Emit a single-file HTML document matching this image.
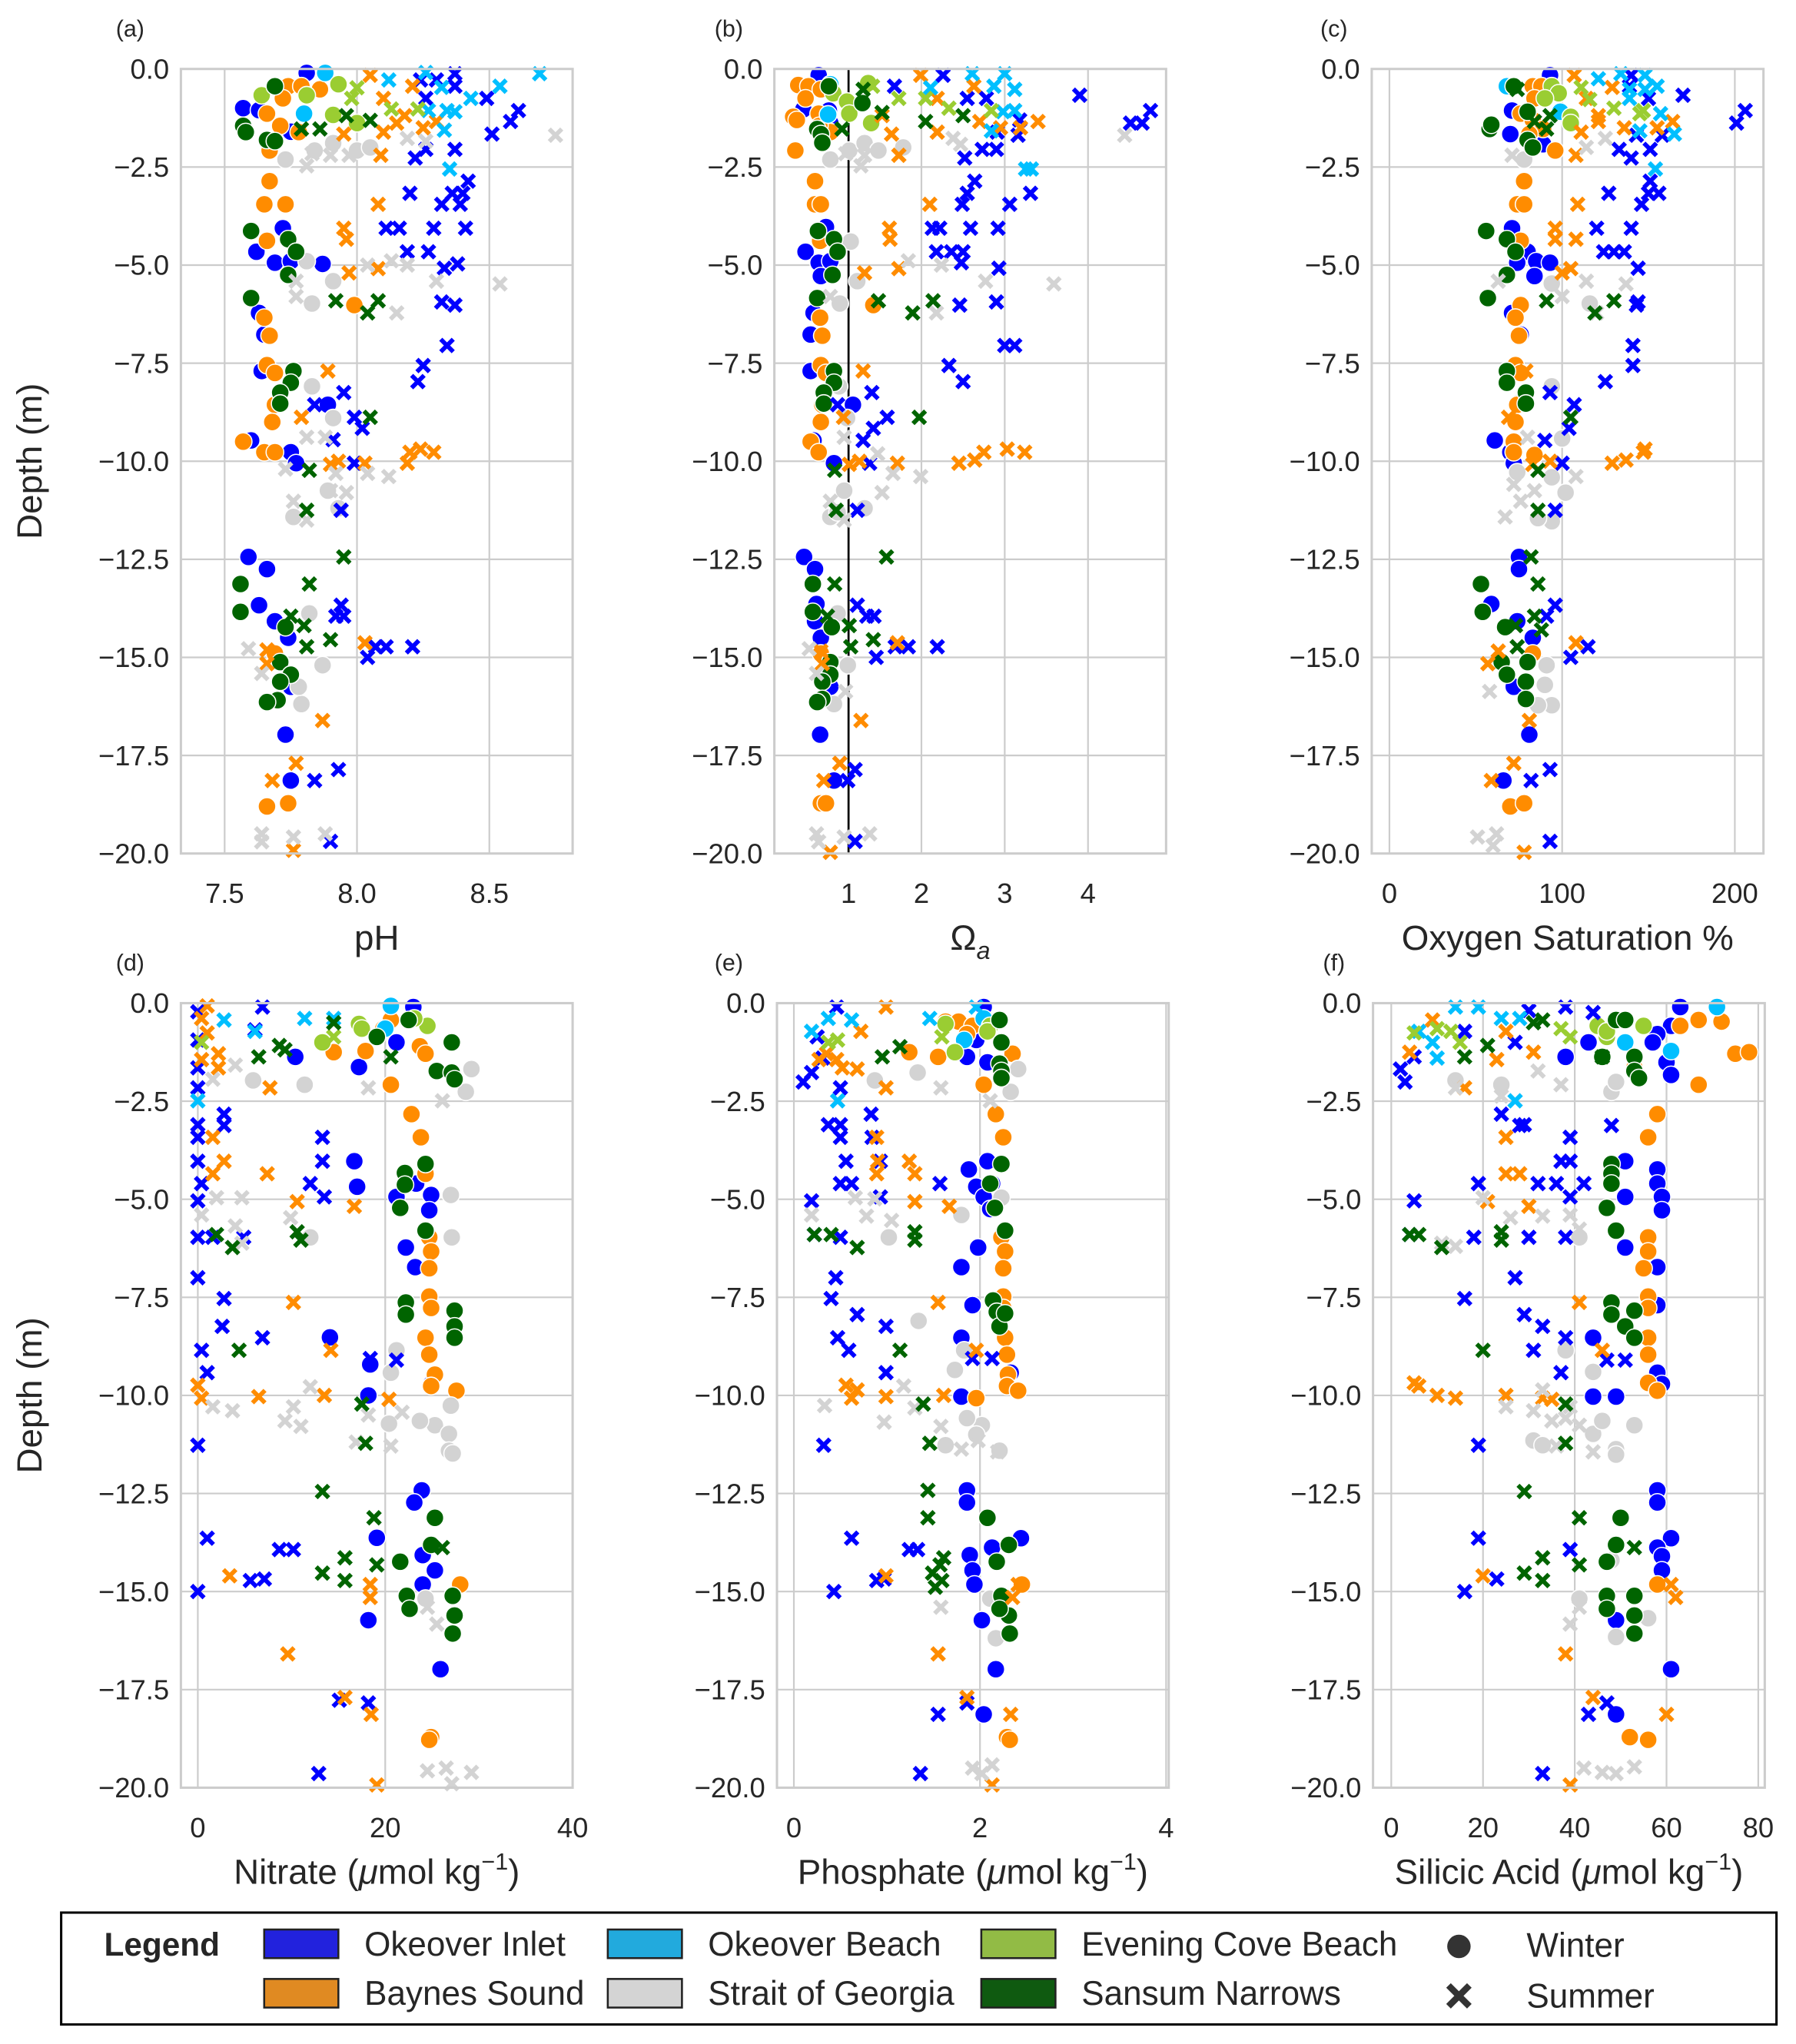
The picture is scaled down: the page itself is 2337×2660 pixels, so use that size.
<!DOCTYPE html>
<html><head><meta charset="utf-8"><style>
html,body{margin:0;padding:0;background:#fff}
svg{display:block}
text{font-family:"Liberation Sans",Arial,sans-serif;fill:#262626}
</style></head><body>
<svg id="fig" xmlns="http://www.w3.org/2000/svg" width="2337" height="2660" viewBox="0 0 1380 1571" preserveAspectRatio="none"></svg>
<script>
// site codes: B Okeover Inlet, O Baynes Sound, C Okeover Beach, S Strait of Georgia, G Evening Cove Beach, N Sansum Narrows
const siteCodes = ["B","O","C","S","G","N"];
const siteColors = ["#0000ff","#ff8c00","#00bfff","#d3d3d3","#9acd32","#006400"];
const yTicks = [0,-2.5,-5,-7.5,-10,-12.5,-15,-17.5,-20];
const yTickLabels = ["0.0","\u22122.5","\u22125.0","\u22127.5","\u221210.0","\u221212.5","\u221215.0","\u221217.5","\u221220.0"];
const phTicks = [7.5,8.0,8.5];
const phTickLabels = ["7.5","8.0","8.5"];
const omTicks = [1,2,3,4];
const omTickLabels = ["1","2","3","4"];
const oxTicks = [0,100,200];
const oxTickLabels = ["0","100","200"];
const niTicks = [0,20,40];
const niTickLabels = ["0","20","40"];
const poTicks = [0,2,4];
const poTickLabels = ["0","2","4"];
const siTicks = [0,20,40,60,80];
const siTickLabels = ["0","20","40","60","80"];

// [site, season(w/s), value, depth]
const phPoints = [
["B","w",7.81,-0.1],["B","w",7.57,-1.0],["B","w",7.63,-1.05],["B","w",7.75,-1.6],["B","w",7.72,-4.06],["B","w",7.62,-4.66],["B","w",7.69,-4.94],["B","w",7.75,-4.9],["B","w",7.87,-4.97],["B","w",7.63,-6.22],["B","w",7.65,-6.77],["B","w",7.64,-7.7],["B","w",7.89,-8.56],["B","w",7.60,-9.47],["B","w",7.75,-9.77],["B","w",7.77,-10.05],["B","w",7.59,-12.44],["B","w",7.66,-12.75],["B","w",7.63,-13.67],["B","w",7.69,-14.08],["B","w",7.74,-14.5],["B","w",7.75,-15.75],["B","w",7.73,-16.97],["B","w",7.75,-18.14],
["O","w",7.74,-0.44],["O","w",7.79,-0.44],["O","w",7.86,-0.52],["O","w",7.72,-0.75],["O","w",7.66,-1.14],["O","w",7.71,-1.45],["O","w",7.78,-1.61],["O","w",7.67,-2.08],["O","w",7.67,-2.86],["O","w",7.65,-3.45],["O","w",7.73,-3.45],["O","w",7.66,-4.38],["O","w",7.99,-6.02],["O","w",7.65,-6.34],["O","w",7.67,-6.8],["O","w",7.66,-7.55],["O","w",7.69,-7.75],["O","w",7.69,-8.56],["O","w",7.68,-9.0],["O","w",7.57,-9.5],["O","w",7.65,-9.77],["O","w",7.69,-9.77],["O","w",7.66,-18.8],["O","w",7.74,-18.72],["O","w",7.69,-14.9],
["C","w",7.88,-0.1],["C","w",7.80,-1.14],
["S","w",7.73,-2.31],["S","w",7.84,-2.08],["S","w",7.91,-1.89],["S","w",8.0,-2.08],["S","w",8.05,-2.0],["S","w",7.81,-4.9],["S","w",7.91,-5.41],["S","w",7.83,-5.98],["S","w",7.83,-8.09],["S","w",7.91,-8.9],["S","w",7.89,-10.75],["S","w",7.93,-11.2],["S","w",7.76,-11.42],["S","w",7.82,-13.88],["S","w",7.87,-15.2],["S","w",7.79,-16.19],["S","w",7.78,-15.75],
["G","w",7.64,-0.67],["G","w",7.93,-0.39],["G","w",8.0,-1.38],["G","w",7.91,-1.17],["G","w",7.81,-0.67],
["N","w",7.60,-4.13],["N","w",7.74,-4.34],["N","w",7.77,-4.66],["N","w",7.74,-5.25],["N","w",7.60,-5.84],["N","w",7.76,-7.7],["N","w",7.75,-8.0],["N","w",7.71,-8.25],["N","w",7.71,-8.53],["N","w",7.57,-1.45],["N","w",7.58,-1.61],["N","w",7.66,-1.81],["N","w",7.69,-1.84],["N","w",7.69,-0.44],["N","w",7.56,-13.13],["N","w",7.56,-13.84],["N","w",7.73,-14.23],["N","w",7.71,-15.12],["N","w",7.75,-15.44],["N","w",7.71,-15.62],["N","w",7.70,-16.09],["N","w",7.66,-16.14],
["B","s",8.24,-0.28],["B","s",8.30,-0.28],["B","s",8.37,-0.44],["B","s",8.37,-0.12],["B","s",8.49,-0.75],["B","s",8.26,-0.75],["B","s",8.61,-1.06],["B","s",8.58,-1.34],["B","s",8.51,-1.66],["B","s",8.37,-2.05],["B","s",8.26,-2.05],["B","s",8.22,-2.27],["B","s",8.42,-2.86],["B","s",8.20,-3.17],["B","s",8.36,-3.17],["B","s",8.40,-3.17],["B","s",8.32,-3.45],["B","s",8.39,-3.45],["B","s",8.11,-4.06],["B","s",8.16,-4.06],["B","s",8.29,-4.06],["B","s",8.41,-4.06],["B","s",8.19,-4.66],["B","s",8.27,-4.66],["B","s",8.33,-5.08],["B","s",8.38,-4.97],["B","s",8.32,-5.94],["B","s",8.37,-6.02],["B","s",8.34,-7.05],["B","s",8.25,-7.56],["B","s",8.23,-7.97],["B","s",7.95,-8.25],["B","s",7.84,-8.56],["B","s",7.99,-8.88],["B","s",8.02,-9.16],["B","s",7.91,-9.45],["B","s",7.99,-10.05],["B","s",7.94,-11.25],["B","s",7.94,-13.67],["B","s",7.92,-13.95],["B","s",7.95,-13.95],["B","s",8.07,-14.73],["B","s",8.11,-14.73],["B","s",8.21,-14.73],["B","s",8.04,-15.0],["B","s",7.93,-17.86],["B","s",7.84,-18.14],["B","s",7.90,-19.69],
["O","s",8.05,-0.16],["O","s",8.10,-0.75],["O","s",8.21,-0.44],["O","s",8.18,-1.19],["O","s",8.15,-1.38],["O","s",8.25,-1.5],["O","s",8.30,-1.34],["O","s",8.10,-1.61],["O","s",7.95,-1.66],["O","s",8.09,-2.2],["O","s",8.08,-3.45],["O","s",7.95,-4.06],["O","s",7.96,-4.34],["O","s",7.97,-5.2],["O","s",8.08,-5.09],["O","s",7.89,-7.7],["O","s",7.79,-8.88],["O","s",7.93,-10.0],["O","s",7.90,-10.08],["O","s",8.03,-10.05],["O","s",8.20,-9.77],["O","s",8.24,-9.69],["O","s",8.29,-9.77],["O","s",8.19,-10.05],["O","s",8.03,-14.63],["O","s",7.66,-14.81],["O","s",7.66,-15.16],["O","s",7.87,-16.61],["O","s",7.77,-17.7],["O","s",7.68,-18.14],["O","s",7.76,-19.92],
["C","s",8.12,-0.28],["C","s",8.26,-0.09],["C","s",8.32,-0.47],["C","s",8.43,-0.75],["C","s",8.54,-0.44],["C","s",8.69,-0.12],["C","s",8.27,-1.06],["C","s",8.34,-1.06],["C","s",8.37,-1.09],["C","s",8.33,-1.56],["C","s",8.35,-2.55],
["S","s",8.19,-1.77],["S","s",8.26,-1.84],["S","s",8.75,-1.69],["S","s",7.81,-2.47],["S","s",7.83,-2.16],["S","s",7.90,-2.2],["S","s",7.97,-2.2],["S","s",8.04,-5.0],["S","s",8.13,-4.89],["S","s",8.19,-5.0],["S","s",8.30,-5.41],["S","s",8.54,-5.48],["S","s",7.77,-5.41],["S","s",7.77,-5.8],["S","s",8.15,-6.22],["S","s",7.81,-9.39],["S","s",7.88,-9.39],["S","s",8.12,-10.39],["S","s",8.04,-10.31],["S","s",7.73,-10.2],["S","s",7.92,-10.31],["S","s",7.90,-10.75],["S","s",7.96,-10.8],["S","s",7.76,-11.02],["S","s",7.81,-11.5],["S","s",7.59,-14.78],["S","s",7.64,-15.41],["S","s",7.64,-19.5],["S","s",7.64,-19.7],["S","s",7.76,-19.58],["S","s",7.88,-19.5],
["G","s",8.0,-0.48],["G","s",7.98,-0.75],["G","s",8.13,-1.02],["G","s",8.23,-1.02],
["N","s",7.96,-1.19],["N","s",8.05,-1.31],["N","s",7.86,-1.53],["N","s",7.79,-1.53],["N","s",7.92,-5.91],["N","s",8.08,-5.91],["N","s",8.04,-6.22],["N","s",8.05,-8.88],["N","s",7.82,-10.23],["N","s",7.81,-11.25],["N","s",7.95,-12.44],["N","s",7.82,-13.13],["N","s",7.75,-13.95],["N","s",7.80,-14.19],["N","s",7.81,-14.73],["N","s",7.90,-14.55]
];

const omegaPoints = [
["B","w",0.59,-0.16],["B","w",0.38,-1.03],["B","w",0.73,-1.06],["B","w",0.41,-4.66],["B","w",0.69,-4.03],["B","w",0.59,-4.94],["B","w",0.75,-4.9],["B","w",0.62,-5.28],["B","w",0.52,-6.22],["B","w",0.48,-6.77],["B","w",0.48,-7.7],["B","w",1.06,-8.56],["B","w",0.52,-9.47],["B","w",0.8,-10.05],["B","w",0.39,-12.44],["B","w",0.54,-12.75],["B","w",0.56,-13.64],["B","w",0.54,-14.08],["B","w",0.62,-14.5],["B","w",0.75,-15.75],["B","w",0.61,-16.97],["B","w",0.8,-18.14],["B","w",0.75,-1.38],
["O","w",0.31,-0.41],["O","w",0.45,-0.44],["O","w",0.62,-0.52],["O","w",0.41,-0.75],["O","w",0.24,-1.22],["O","w",0.29,-1.3],["O","w",0.59,-1.14],["O","w",0.75,-1.61],["O","w",0.6,-1.45],["O","w",0.27,-2.08],["O","w",0.54,-2.86],["O","w",0.54,-3.45],["O","w",0.62,-3.45],["O","w",0.61,-4.38],["O","w",1.34,-6.02],["O","w",0.61,-6.34],["O","w",0.64,-6.8],["O","w",0.62,-7.55],["O","w",0.69,-7.75],["O","w",0.64,-8.56],["O","w",0.62,-9.0],["O","w",0.48,-9.5],["O","w",0.59,-9.77],["O","w",0.62,-18.72],["O","w",0.69,-18.72],["O","w",0.62,-14.9],
["C","w",0.75,-0.39],["C","w",0.72,-1.16],
["S","w",0.75,-2.31],["S","w",1.01,-2.08],["S","w",1.22,-1.89],["S","w",1.41,-2.08],["S","w",1.75,-2.0],["S","w",1.03,-4.4],["S","w",1.12,-5.41],["S","w",0.88,-5.98],["S","w",0.87,-8.09],["S","w",0.98,-8.9],["S","w",0.94,-10.75],["S","w",1.22,-11.2],["S","w",0.75,-11.42],["S","w",0.85,-13.88],["S","w",0.99,-15.2],["S","w",0.8,-16.19],["S","w",0.85,-11.3],
["G","w",0.79,-0.62],["G","w",1.27,-0.36],["G","w",0.98,-0.83],["G","w",1.31,-1.38],["G","w",1.01,-1.14],
["N","w",0.58,-4.13],["N","w",0.8,-4.34],["N","w",0.85,-4.66],["N","w",0.78,-5.25],["N","w",0.57,-5.84],["N","w",0.8,-7.7],["N","w",0.8,-8.0],["N","w",0.66,-8.25],["N","w",0.66,-8.53],["N","w",0.57,-1.53],["N","w",0.62,-1.66],["N","w",0.64,-1.88],["N","w",0.73,-0.44],["N","w",1.19,-0.87],["N","w",0.51,-13.13],["N","w",0.51,-13.84],["N","w",0.77,-14.23],["N","w",0.75,-15.12],["N","w",0.75,-15.44],["N","w",0.64,-15.62],["N","w",0.64,-16.06],["N","w",0.57,-16.14],
["B","s",1.63,-0.44],["B","s",2.26,-0.16],["B","s",2.55,-0.75],["B","s",2.78,-0.75],["B","s",3.16,-1.69],["B","s",2.91,-1.61],["B","s",2.73,-2.05],["B","s",2.9,-2.05],["B","s",2.52,-2.27],["B","s",2.64,-2.86],["B","s",2.55,-3.17],["B","s",2.49,-3.45],["B","s",3.06,-3.45],["B","s",3.31,-3.17],["B","s",2.13,-4.06],["B","s",2.22,-4.06],["B","s",2.59,-4.06],["B","s",2.92,-4.06],["B","s",2.18,-4.66],["B","s",2.36,-4.66],["B","s",2.5,-4.66],["B","s",2.48,-4.94],["B","s",2.93,-5.08],["B","s",2.46,-6.02],["B","s",2.9,-5.94],["B","s",3.0,-7.05],["B","s",3.12,-7.05],["B","s",2.33,-7.56],["B","s",2.5,-7.97],["B","s",1.32,-8.25],["B","s",0.85,-8.56],["B","s",1.53,-8.88],["B","s",1.34,-9.16],["B","s",1.2,-9.47],["B","s",1.29,-10.05],["B","s",1.12,-11.25],["B","s",1.12,-13.67],["B","s",1.25,-13.95],["B","s",1.35,-13.95],["B","s",1.64,-14.73],["B","s",1.82,-14.73],["B","s",2.19,-14.73],["B","s",1.38,-15.0],["B","s",1.09,-17.86],["B","s",0.99,-18.14],["B","s",1.09,-19.69],["B","s",3.9,-0.67],["B","s",4.51,-1.38],["B","s",4.65,-1.38],["B","s",4.75,-1.06],["B","s",3.18,-1.3],
["O","s",1.99,-0.16],["O","s",2.19,-0.75],["O","s",2.63,-0.44],["O","s",2.7,-1.34],["O","s",2.95,-1.5],["O","s",3.4,-1.34],["O","s",3.19,-1.5],["O","s",2.19,-1.61],["O","s",1.59,-1.66],["O","s",1.69,-2.2],["O","s",1.46,-1.19],["O","s",2.1,-3.45],["O","s",1.56,-4.06],["O","s",1.57,-4.34],["O","s",1.22,-5.2],["O","s",1.69,-5.09],["O","s",1.2,-7.7],["O","s",0.93,-8.88],["O","s",1.01,-10.08],["O","s",1.15,-10.0],["O","s",1.67,-10.05],["O","s",2.45,-10.05],["O","s",2.64,-9.97],["O","s",2.75,-9.77],["O","s",3.03,-9.69],["O","s",3.24,-9.77],["O","s",1.67,-14.63],["O","s",0.62,-14.84],["O","s",0.64,-15.16],["O","s",1.17,-16.61],["O","s",0.88,-17.7],["O","s",0.66,-18.14],["O","s",0.75,-19.97],
["C","s",2.11,-0.48],["C","s",2.61,-0.12],["C","s",2.87,-0.44],["C","s",3.0,-0.12],["C","s",3.12,-0.52],["C","s",2.98,-1.09],["C","s",3.12,-1.06],["C","s",2.84,-1.58],["C","s",3.25,-2.55],["C","s",3.32,-2.55],
["S","s",2.38,-1.77],["S","s",2.47,-1.92],["S","s",4.44,-1.69],["S","s",1.17,-2.47],["S","s",0.96,-2.16],["S","s",1.22,-2.2],["S","s",2.24,-5.0],["S","s",1.82,-4.89],["S","s",2.77,-5.41],["S","s",3.59,-5.48],["S","s",0.75,-5.8],["S","s",2.18,-6.22],["S","s",0.94,-9.39],["S","s",1.4,-9.81],["S","s",1.99,-10.39],["S","s",1.61,-10.31],["S","s",1.46,-10.8],["S","s",0.75,-11.02],["S","s",0.94,-11.5],["S","s",0.46,-14.78],["S","s",0.56,-15.41],["S","s",0.96,-15.87],["S","s",0.56,-19.5],["S","s",0.59,-19.7],["S","s",0.94,-19.58],["S","s",1.29,-19.5],
["G","s",1.69,-0.75],["G","s",2.05,-0.75],["G","s",2.33,-1.0],["G","s",2.84,-1.06],["G","s",1.33,-0.44],
["N","s",1.2,-0.52],["N","s",2.05,-1.34],["N","s",2.5,-1.19],["N","s",0.91,-1.53],["N","s",1.41,-5.91],["N","s",2.14,-5.91],["N","s",1.88,-6.22],["N","s",1.97,-8.88],["N","s",0.81,-10.23],["N","s",0.83,-11.25],["N","s",1.52,-12.44],["N","s",0.81,-13.13],["N","s",0.71,-13.95],["N","s",1.01,-14.19],["N","s",1.03,-14.73],["N","s",1.34,-14.55],["N","s",1.46,-1.11]
];

const oxygenPoints = [
["B","w",93,-0.16],["B","w",71,-1.06],["B","w",70,-1.66],["B","w",89,-1.92],["B","w",71,-4.06],["B","w",80,-4.66],["B","w",74,-4.94],["B","w",85,-4.9],["B","w",93,-4.94],["B","w",84,-5.28],["B","w",71,-6.22],["B","w",76,-6.77],["B","w",61,-9.47],["B","w",74,-8.53],["B","w",70,-9.77],["B","w",72,-10.05],["B","w",75,-12.44],["B","w",75,-12.75],["B","w",59,-13.64],["B","w",74,-14.08],["B","w",83,-14.5],["B","w",72,-15.75],["B","w",81,-16.97],["B","w",66,-18.14],
["O","w",83,-0.44],["O","w",88,-0.44],["O","w",84,-0.75],["O","w",76,-1.14],["O","w",83,-1.3],["O","w",89,-1.53],["O","w",81,-1.66],["O","w",96,-2.08],["O","w",78,-2.86],["O","w",74,-3.45],["O","w",78,-3.45],["O","w",76,-4.38],["O","w",76,-6.02],["O","w",73,-6.34],["O","w",75,-6.8],["O","w",73,-7.55],["O","w",76,-7.75],["O","w",74,-8.56],["O","w",73,-9.0],["O","w",72,-9.5],["O","w",72,-9.77],["O","w",84,-9.84],["O","w",70,-18.8],["O","w",78,-18.72],["O","w",83,-14.9],
["C","w",68,-0.44],["C","w",99,-1.09],
["S","w",78,-2.31],["S","w",94,-8.09],["S","w",100,-9.42],["S","w",102,-10.8],["S","w",94,-10.41],["S","w",94,-11.53],["S","w",86,-11.45],["S","w",94,-5.47],["S","w",116,-5.98],["S","w",91,-15.2],["S","w",90,-15.7],["S","w",94,-16.22],["S","w",86,-16.22],["S","w",74,-10.28],
["G","w",94,-0.44],["G","w",98,-0.62],["G","w",105,-1.22],["G","w",105,-1.38],["G","w",90,-0.75],
["N","w",56,-4.13],["N","w",68,-4.34],["N","w",73,-4.66],["N","w",68,-5.25],["N","w",57,-5.84],["N","w",68,-7.7],["N","w",68,-8.0],["N","w",79,-8.25],["N","w",79,-8.53],["N","w",58,-1.53],["N","w",59,-1.42],["N","w",80,-1.81],["N","w",83,-2.0],["N","w",72,-0.44],["N","w",80,-1.09],["N","w",53,-13.13],["N","w",54,-13.84],["N","w",67,-14.23],["N","w",65,-15.12],["N","w",80,-15.12],["N","w",68,-15.44],["N","w",79,-15.62],["N","w",79,-16.06],
["B","s",140,-0.16],["B","s",139,-0.44],["B","s",150,-0.75],["B","s",170,-0.67],["B","s",206,-1.06],["B","s",201,-1.38],["B","s",143,-1.69],["B","s",158,-1.69],["B","s",151,-2.05],["B","s",133,-2.05],["B","s",140,-2.27],["B","s",151,-2.86],["B","s",127,-3.17],["B","s",150,-3.17],["B","s",156,-3.17],["B","s",146,-3.45],["B","s",120,-4.06],["B","s",140,-4.06],["B","s",124,-4.66],["B","s",130,-4.66],["B","s",136,-4.66],["B","s",144,-5.08],["B","s",143,-6.02],["B","s",144,-5.94],["B","s",141,-7.05],["B","s",141,-7.56],["B","s",125,-7.97],["B","s",93,-8.25],["B","s",107,-8.56],["B","s",104,-9.16],["B","s",90,-9.47],["B","s",100,-10.05],["B","s",96,-11.25],["B","s",96,-13.67],["B","s",91,-13.95],["B","s",115,-14.73],["B","s",105,-15.0],["B","s",93,-17.86],["B","s",82,-18.14],["B","s",93,-19.69],
["O","s",107,-0.16],["O","s",114,-0.75],["O","s",129,-0.47],["O","s",121,-1.19],["O","s",121,-1.34],["O","s",136,-1.5],["O","s",155,-1.5],["O","s",164,-1.34],["O","s",111,-1.61],["O","s",108,-2.2],["O","s",109,-3.45],["O","s",96,-4.06],["O","s",96,-4.34],["O","s",108,-4.34],["O","s",100,-5.2],["O","s",105,-5.09],["O","s",79,-7.7],["O","s",69,-8.88],["O","s",83,-10.08],["O","s",93,-10.0],["O","s",129,-10.05],["O","s",137,-9.97],["O","s",147,-9.77],["O","s",148,-9.69],["O","s",108,-14.63],["O","s",63,-14.84],["O","s",57,-15.16],["O","s",81,-16.61],["O","s",72,-17.7],["O","s",59,-18.14],["O","s",78,-19.97],
["C","s",121,-0.25],["C","s",134,-0.12],["C","s",148,-0.16],["C","s",155,-0.44],["C","s",139,-0.52],["C","s",148,-0.52],["C","s",139,-0.75],["C","s",157,-1.14],["C","s",145,-1.58],["C","s",165,-1.66],["C","s",154,-2.55],
["S","s",125,-1.77],["S","s",114,-2.0],["S","s",71,-2.2],["S","s",114,-5.41],["S","s",137,-5.48],["S","s",100,-5.8],["S","s",63,-5.41],["S","s",120,-6.22],["S","s",80,-9.39],["S","s",108,-10.39],["S","s",84,-10.75],["S","s",72,-10.59],["S","s",76,-11.02],["S","s",67,-11.42],["S","s",58,-15.87],["S","s",51,-19.58],["S","s",62,-19.5],["S","s",60,-19.8],
["G","s",111,-0.47],["G","s",116,-0.78],["G","s",130,-1.0],["G","s",147,-1.06],["G","s",145,-1.14],
["N","s",74,-0.52],["N","s",93,-1.19],["N","s",84,-1.34],["N","s",91,-1.53],["N","s",91,-5.91],["N","s",130,-5.91],["N","s",119,-6.22],["N","s",105,-8.88],["N","s",86,-10.23],["N","s",86,-11.25],["N","s",82,-12.44],["N","s",86,-13.13],["N","s",84,-13.95],["N","s",73,-14.19],["N","s",74,-14.73],["N","s",88,-14.3]
];

const nitratePoints = [
["B","w",23,-0.1],["B","w",21.2,-1.0],["B","w",10.4,-1.37],["B","w",17.2,-1.63],["B","w",16.7,-4.03],["B","w",17.0,-4.68],["B","w",21.2,-4.94],["B","w",23.3,-4.6],["B","w",24.9,-4.89],["B","w",24.7,-5.28],["B","w",22.2,-6.23],["B","w",23.2,-6.73],["B","w",14.1,-8.52],["B","w",18.2,-10.0],["B","w",18.4,-9.21],["B","w",19.1,-13.63],["B","w",23.9,-12.42],["B","w",23.1,-12.73],["B","w",24.0,-14.07],["B","w",25.3,-14.46],["B","w",24.0,-14.82],["B","w",18.2,-15.73],["B","w",25.9,-16.98],["B","w",24.9,-9.71],
["O","w",20.6,-0.43],["O","w",19.8,-0.65],["O","w",23.7,-1.1],["O","w",24.3,-1.29],["O","w",14.5,-1.25],["O","w",17.9,-1.22],["O","w",20.6,-2.08],["O","w",22.8,-2.83],["O","w",23.8,-3.42],["O","w",24.3,-4.35],["O","w",24.7,-5.97],["O","w",24.9,-6.33],["O","w",24.7,-6.76],["O","w",24.7,-7.48],["O","w",24.9,-7.77],["O","w",24.3,-8.53],["O","w",24.7,-8.96],["O","w",25.3,-9.47],["O","w",24.9,-9.76],["O","w",27.6,-9.88],["O","w",24.9,-18.71],["O","w",24.7,-18.78],["O","w",28.0,-14.82],
["C","w",20.6,-0.07],["C","w",20.0,-0.65],
["S","w",5.9,-1.97],["S","w",11.4,-2.08],["S","w",29.2,-1.68],["S","w",28.6,-2.26],["S","w",27.0,-4.89],["S","w",27.1,-5.97],["S","w",12.0,-5.97],["S","w",21.2,-8.85],["S","w",20.6,-9.42],["S","w",27.0,-10.26],["S","w",25.3,-10.76],["S","w",26.8,-10.98],["S","w",26.8,-11.41],["S","w",27.2,-11.48],["S","w",20.4,-10.72],["S","w",24.3,-15.18],["S","w",23.7,-10.65],
["G","w",17.2,-0.53],["G","w",17.5,-0.65],["G","w",24.5,-0.58],["G","w",23.1,-0.39],["G","w",13.3,-1.0],
["N","w",24.3,-4.1],["N","w",22.1,-4.33],["N","w",22.1,-4.63],["N","w",21.6,-5.22],["N","w",24.3,-5.8],["N","w",22.2,-7.63],["N","w",22.2,-7.94],["N","w",27.4,-7.84],["N","w",27.4,-8.24],["N","w",27.4,-8.53],["N","w",27.1,-1.0],["N","w",25.5,-1.73],["N","w",27.1,-1.77],["N","w",27.4,-1.94],["N","w",22.5,-0.43],["N","w",19.1,-0.86],["N","w",25.3,-13.12],["N","w",24.9,-13.81],["N","w",21.6,-14.24],["N","w",22.3,-15.11],["N","w",22.6,-15.44],["N","w",27.2,-15.11],["N","w",27.4,-15.61],["N","w",27.2,-16.07],
["B","s",0,-0.22],["B","s",0,-0.94],["B","s",0,-1.65],["B","s",0,-2.16],["B","s",0,-3.1],["B","s",0,-3.42],["B","s",0,-4.03],["B","s",0.4,-4.6],["B","s",0,-5.04],["B","s",0,-5.97],["B","s",1.6,-5.97],["B","s",4.9,-5.97],["B","s",2.8,-2.83],["B","s",2.8,-3.12],["B","s",6.9,-0.1],["B","s",6.1,-0.68],["B","s",13.3,-3.42],["B","s",13.3,-4.03],["B","s",12.0,-4.6],["B","s",13.5,-4.94],["B","s",0,-7.0],["B","s",2.8,-7.53],["B","s",2.6,-8.24],["B","s",6.9,-8.53],["B","s",0.4,-8.85],["B","s",1.0,-9.42],["B","s",0,-11.27],["B","s",1.0,-13.64],["B","s",0,-15.0],["B","s",8.7,-13.93],["B","s",10.2,-13.93],["B","s",5.6,-14.72],["B","s",7.1,-14.68],["B","s",18.4,-9.06],["B","s",21.2,-9.1],["B","s",15.1,-17.77],["B","s",18.2,-17.84],["B","s",12.9,-19.64],
["O","s",1.0,-0.07],["O","s",0.4,-0.39],["O","s",1.0,-0.76],["O","s",2.2,-1.29],["O","s",0.4,-1.44],["O","s",2.2,-1.65],["O","s",7.7,-2.16],["O","s",1.6,-3.42],["O","s",2.8,-4.03],["O","s",1.6,-4.35],["O","s",7.4,-4.35],["O","s",10.6,-5.06],["O","s",16.7,-5.18],["O","s",10.2,-7.63],["O","s",14.2,-8.85],["O","s",0,-9.74],["O","s",0.4,-10.07],["O","s",6.5,-10.03],["O","s",13.5,-10.0],["O","s",20.4,-10.1],["O","s",3.4,-14.6],["O","s",18.4,-14.82],["O","s",18.4,-15.15],["O","s",9.6,-16.59],["O","s",15.7,-17.7],["O","s",18.5,-18.13],["O","s",19.1,-19.93],
["C","s",0,-2.49],["C","s",2.8,-0.43],["C","s",6.1,-0.72],["C","s",11.4,-0.39],["C","s",14.5,-0.39],
["S","s",1.6,-1.94],["S","s",4.0,-1.58],["S","s",2.0,-4.96],["S","s",4.7,-4.96],["S","s",0.4,-5.4],["S","s",4.0,-5.68],["S","s",9.9,-5.47],["S","s",4.7,-6.12],["S","s",1.6,-10.29],["S","s",3.7,-10.39],["S","s",9.3,-10.65],["S","s",11.0,-10.79],["S","s",10.2,-10.29],["S","s",12.0,-9.78],["S","s",18.2,-2.16],["S","s",26.1,-2.49],["S","s",24.5,-19.57],["S","s",26.5,-19.5],["S","s",29.2,-19.61],["S","s",27.1,-19.9],["S","s",25.5,-15.83],["S","s",24.5,-15.4],["S","s",20.6,-11.29],["S","s",16.9,-11.19],["S","s",18.2,-10.5],["S","s",21.8,-10.43],
["G","s",0.4,-1.0],["G","s",14.5,-0.86],
["N","s",14.5,-0.5],["N","s",8.7,-1.08],["N","s",9.3,-1.19],["N","s",6.5,-1.37],["N","s",2.0,-5.9],["N","s",3.7,-6.23],["N","s",10.6,-5.83],["N","s",11.0,-6.04],["N","s",4.4,-8.85],["N","s",17.5,-10.22],["N","s",17.9,-11.22],["N","s",13.3,-12.45],["N","s",18.8,-13.12],["N","s",19.1,-14.32],["N","s",15.7,-14.14],["N","s",13.3,-14.53],["N","s",15.7,-14.72],["N","s",26.1,-13.88],["N","s",20.6,-1.37]
];

const phosphatePoints = [
["B","w",2.04,-0.1],["B","w",1.96,-0.94],["B","w",1.86,-1.37],["B","w",2.08,-1.51],["B","w",2.08,-4.03],["B","w",1.88,-4.24],["B","w",1.96,-4.68],["B","w",2.04,-4.94],["B","w",2.13,-4.6],["B","w",2.11,-5.25],["B","w",1.98,-6.23],["B","w",1.80,-6.73],["B","w",1.92,-7.7],["B","w",1.80,-8.53],["B","w",1.80,-10.03],["B","w",1.86,-12.42],["B","w",1.86,-12.73],["B","w",1.89,-14.07],["B","w",1.92,-14.46],["B","w",1.94,-14.82],["B","w",2.02,-15.73],["B","w",2.17,-16.98],["B","w",2.04,-18.13],["B","w",2.44,-13.64],["B","w",2.13,-13.88],["B","w",2.33,-9.42],
["O","w",1.63,-0.47],["O","w",1.77,-0.47],["O","w",1.92,-0.58],["O","w",1.86,-0.79],["O","w",1.55,-1.37],["O","w",1.24,-1.25],["O","w",2.35,-1.29],["O","w",2.04,-2.08],["O","w",2.17,-2.83],["O","w",2.25,-3.42],["O","w",2.23,-5.97],["O","w",2.27,-6.33],["O","w",2.25,-6.76],["O","w",2.25,-7.48],["O","w",2.25,-7.77],["O","w",2.27,-8.53],["O","w",2.29,-8.96],["O","w",2.30,-9.47],["O","w",2.29,-9.76],["O","w",2.41,-9.88],["O","w",2.29,-18.71],["O","w",2.32,-18.78],["O","w",2.45,-14.82],["O","w",1.96,-10.07],
["C","w",2.04,-0.39],["C","w",1.83,-0.94],
["S","w",0.87,-1.97],["S","w",1.33,-1.77],["S","w",2.41,-1.68],["S","w",2.33,-2.26],["S","w",2.23,-4.96],["S","w",1.02,-5.97],["S","w",1.80,-5.4],["S","w",1.34,-8.1],["S","w",1.73,-9.35],["S","w",1.83,-8.85],["S","w",2.02,-10.76],["S","w",1.96,-11.0],["S","w",2.21,-11.41],["S","w",1.86,-10.58],["S","w",2.11,-15.18],["S","w",2.17,-16.19],["S","w",1.63,-11.27],
["G","w",2.11,-0.58],["G","w",2.08,-0.72],["G","w",1.63,-0.53],["G","w",1.73,-1.25],
["N","w",2.23,-4.1],["N","w",2.11,-4.6],["N","w",2.16,-5.22],["N","w",2.27,-5.8],["N","w",2.14,-7.58],["N","w",2.18,-7.87],["N","w",2.21,-8.24],["N","w",2.27,-7.91],["N","w",2.23,-1.0],["N","w",2.21,-1.54],["N","w",2.23,-1.73],["N","w",2.23,-1.91],["N","w",2.21,-0.43],["N","w",2.08,-13.12],["N","w",2.31,-13.81],["N","w",2.18,-14.24],["N","w",2.23,-15.11],["N","w",2.31,-15.61],["N","w",2.32,-16.07],["N","w",2.21,-15.44],
["B","s",0.1,-2.01],["B","s",0.19,-1.77],["B","s",0.31,-1.4],["B","s",0.25,-0.86],["B","s",0.46,-0.1],["B","s",0.5,-2.16],["B","s",0.37,-3.1],["B","s",0.5,-3.1],["B","s",0.5,-3.42],["B","s",0.56,-4.03],["B","s",0.93,-4.03],["B","s",0.5,-4.6],["B","s",0.62,-4.6],["B","s",0.93,-4.94],["B","s",0.19,-5.04],["B","s",0.22,-5.9],["B","s",0.5,-5.97],["B","s",0.84,-3.42],["B","s",0.83,-2.83],["B","s",1.57,-4.6],["B","s",0.45,-7.0],["B","s",0.4,-7.53],["B","s",0.68,-7.94],["B","s",0.99,-8.24],["B","s",0.47,-8.53],["B","s",0.59,-8.85],["B","s",0.99,-9.42],["B","s",0.32,-11.27],["B","s",0.62,-13.64],["B","s",0.43,-15.0],["B","s",1.24,-13.93],["B","s",1.33,-13.93],["B","s",0.89,-14.72],["B","s",0.97,-14.68],["B","s",1.92,-9.06],["B","s",2.13,-9.06],["B","s",1.86,-17.84],["B","s",1.55,-18.13],["B","s",1.36,-19.64],
["O","s",0.99,-0.1],["O","s",0.72,-0.72],["O","s",0.35,-1.29],["O","s",0.27,-1.44],["O","s",0.52,-1.65],["O","s",0.68,-1.68],["O","s",0.99,-2.16],["O","s",0.89,-3.42],["O","s",0.9,-4.03],["O","s",1.24,-4.03],["O","s",0.89,-4.35],["O","s",1.3,-4.35],["O","s",1.3,-5.06],["O","s",1.67,-5.18],["O","s",1.55,-7.63],["O","s",1.96,-8.85],["O","s",0.56,-9.74],["O","s",0.62,-10.07],["O","s",0.99,-10.03],["O","s",0.68,-9.86],["O","s",1.61,-10.0],["O","s",0.99,-14.6],["O","s",2.41,-14.82],["O","s",2.35,-15.15],["O","s",1.55,-16.59],["O","s",1.86,-17.7],["O","s",2.33,-18.13],["O","s",2.13,-19.93],["O","s",0.46,-1.44],
["C","s",0.47,-2.49],["C","s",0.19,-0.72],["C","s",0.37,-0.39],["C","s",0.62,-0.43],["C","s",1.46,-0.39],["C","s",1.96,-0.1],
["S","s",0.33,-10.26],["S","s",0.19,-5.4],["S","s",0.66,-4.96],["S","s",0.87,-4.99],["S","s",0.78,-5.43],["S","s",1.05,-5.54],["S","s",0.97,-10.68],["S","s",1.3,-10.32],["S","s",1.18,-9.76],["S","s",1.58,-10.79],["S","s",1.80,-11.37],["S","s",1.98,-11.15],["S","s",1.58,-15.4],["S","s",1.92,-19.5],["S","s",2.02,-19.64],["S","s",2.13,-19.42],["S","s",1.58,-2.16],["S","s",2.11,-2.49],["S","s",2.19,-11.44],
["G","s",0.37,-1.0],["G","s",0.47,-0.94],["G","s",1.59,-0.86],
["N","s",0.95,-1.37],["N","s",1.14,-1.11],["N","s",0.22,-5.9],["N","s",0.4,-5.9],["N","s",0.68,-6.23],["N","s",1.3,-5.83],["N","s",1.3,-6.04],["N","s",1.14,-8.85],["N","s",1.39,-10.22],["N","s",1.46,-11.22],["N","s",1.44,-12.42],["N","s",1.44,-13.12],["N","s",1.61,-14.14],["N","s",1.57,-14.32],["N","s",1.49,-14.53],["N","s",1.59,-14.72],["N","s",1.52,-14.89]
];

const silicaPoints = [
["B","w",63,-0.1],["B","w",61,-0.58],["B","w",58,-0.79],["B","w",57,-1.0],["B","w",60,-1.51],["B","w",61,-1.83],["B","w",43,-1.0],["B","w",38,-1.37],["B","w",51,-4.03],["B","w",58,-4.24],["B","w",58,-4.6],["B","w",51,-4.94],["B","w",59,-4.94],["B","w",59,-5.28],["B","w",51,-6.23],["B","w",58,-6.73],["B","w",58,-7.7],["B","w",44,-8.53],["B","w",44,-10.03],["B","w",49,-10.03],["B","w",58,-9.42],["B","w",59,-9.71],["B","w",58,-12.42],["B","w",58,-12.73],["B","w",61,-13.64],["B","w",58,-13.88],["B","w",59,-14.1],["B","w",59,-14.46],["B","w",49,-15.73],["B","w",61,-16.98],["B","w",49,-18.13],
["O","w",63,-0.58],["O","w",67,-0.43],["O","w",72,-0.47],["O","w",75,-1.29],["O","w",78,-1.25],["O","w",67,-2.08],["O","w",58,-2.83],["O","w",56,-3.42],["O","w",56,-5.97],["O","w",56,-6.33],["O","w",55,-6.76],["O","w",56,-7.48],["O","w",56,-7.77],["O","w",56,-8.53],["O","w",56,-8.96],["O","w",56,-9.68],["O","w",58,-9.88],["O","w",52,-18.71],["O","w",56,-18.78],["O","w",58,-14.82],["O","w",53,-1.65],
["C","w",71,-0.1],["C","w",61,-1.22],["C","w",51,-1.0],
["S","w",24,-2.08],["S","w",14,-1.97],["S","w",48,-2.26],["S","w",49,-2.01],["S","w",41,-5.97],["S","w",44,-9.4],["S","w",38,-8.85],["S","w",31,-11.15],["S","w",33,-11.27],["S","w",44,-10.98],["S","w",49,-11.37],["S","w",49,-11.51],["S","w",53,-10.76],["S","w",46,-10.65],["S","w",41,-15.18],["S","w",49,-16.16],["S","w",48,-14.2],["S","w",56,-15.68],
["G","w",45,-0.58],["G","w",47,-0.86],["G","w",55,-0.58],["G","w",47,-0.72],
["N","w",48,-4.1],["N","w",48,-4.35],["N","w",48,-4.6],["N","w",47,-5.22],["N","w",49,-5.8],["N","w",48,-7.63],["N","w",48,-7.94],["N","w",53,-7.84],["N","w",51,-8.24],["N","w",53,-8.53],["N","w",49,-0.43],["N","w",51,-0.43],["N","w",53,-1.37],["N","w",53,-1.73],["N","w",54,-1.91],["N","w",46,-1.37],["N","w",50,-13.12],["N","w",49,-13.81],["N","w",47,-14.24],["N","w",47,-15.11],["N","w",47,-15.44],["N","w",53,-15.11],["N","w",53,-15.61],["N","w",53,-16.07],
["B","s",2,-1.68],["B","s",3,-2.01],["B","s",5,-1.37],["B","s",16,-0.72],["B","s",27,-1.0],["B","s",30,-0.19],["B","s",38,-0.1],["B","s",44,-0.24],["B","s",24,-2.83],["B","s",28,-3.12],["B","s",29,-3.1],["B","s",48,-3.12],["B","s",39,-3.42],["B","s",37,-4.03],["B","s",39,-4.03],["B","s",19,-4.6],["B","s",32,-4.6],["B","s",36,-4.6],["B","s",42,-4.6],["B","s",39,-4.94],["B","s",5,-5.04],["B","s",4,-5.9],["B","s",18,-5.97],["B","s",30,-5.97],["B","s",38,-5.97],["B","s",27,-7.0],["B","s",16,-7.53],["B","s",29,-7.94],["B","s",33,-8.24],["B","s",38,-8.53],["B","s",31,-8.85],["B","s",47,-9.1],["B","s",51,-9.1],["B","s",37,-9.42],["B","s",19,-11.27],["B","s",19,-13.64],["B","s",16,-15.0],["B","s",23,-14.68],["B","s",39,-13.93],["B","s",47,-17.84],["B","s",43,-18.13],["B","s",33,-19.64],
["O","s",4,-1.25],["O","s",9,-0.43],["O","s",16,-2.16],["O","s",23,-1.44],["O","s",31,-1.25],["O","s",25,-0.72],["O","s",25,-3.42],["O","s",25,-4.35],["O","s",28,-4.35],["O","s",21,-5.06],["O","s",30,-5.18],["O","s",41,-7.63],["O","s",46,-8.85],["O","s",5,-9.68],["O","s",6,-9.76],["O","s",10,-10.0],["O","s",14,-10.07],["O","s",25,-10.0],["O","s",33,-10.07],["O","s",35,-10.1],["O","s",20,-14.6],["O","s",61,-14.82],["O","s",62,-15.15],["O","s",38,-16.59],["O","s",44,-17.7],["O","s",60,-18.13],["O","s",39,-19.93],
["C","s",27,-2.49],["C","s",6,-0.72],["C","s",9,-1.0],["C","s",14,-0.1],["C","s",19,-0.1],["C","s",24,-0.39],["C","s",28,-0.39],["C","s",10,-1.4],
["S","s",14,-2.16],["S","s",32,-1.73],["S","s",37,-2.08],["S","s",20,-4.96],["S","s",26,-5.47],["S","s",33,-5.43],["S","s",39,-5.4],["S","s",11,-6.12],["S","s",14,-6.2],["S","s",41,-5.76],["S","s",25,-10.29],["S","s",35,-10.65],["S","s",41,-10.76],["S","s",39,-10.29],["S","s",33,-9.86],["S","s",31,-10.39],["S","s",42,-19.5],["S","s",46,-19.61],["S","s",49,-19.64],["S","s",53,-19.47],["S","s",39,-15.83],["S","s",41,-15.4],["S","s",44,-11.44],["S","s",36,-11.29],["S","s",38,-10.58],["S","s",24,-2.37],
["G","s",5,-0.76],["G","s",10,-0.65],["G","s",13,-0.72],["G","s",15,-1.0],["G","s",39,-0.86],["G","s",37,-0.65],
["N","s",33,-0.43],["N","s",31,-0.5],["N","s",21,-1.08],["N","s",16,-1.37],["N","s",4,-5.9],["N","s",6,-5.9],["N","s",11,-6.23],["N","s",24,-5.83],["N","s",24,-6.04],["N","s",20,-8.85],["N","s",38,-10.22],["N","s",38,-11.22],["N","s",29,-12.45],["N","s",41,-13.12],["N","s",41,-14.32],["N","s",33,-14.14],["N","s",29,-14.53],["N","s",33,-14.72],["N","s",53,-13.88],["N","s",46,-1.37]
];

const NS = "http://www.w3.org/2000/svg";
const svg = document.getElementById("fig");
function mk(tag, attrs, parent){
  const e = document.createElementNS(NS, tag);
  for (const k in attrs) e.setAttribute(k, attrs[k]);
  (parent||svg).appendChild(e);
  return e;
}
function lin(d0,d1,r0,r1){ return v => r0 + (v-d0)*(r1-r0)/(d1-d0); }
function omegaScale(v){
  if (v <= 1) return 652 - (1-v)*56;
  if (v <= 2) return 652 + (v-1)*56;
  return 708 + (v-2)*64;
}
const W = 301, ROW1 = 53, ROW2 = 771, PH = 603;
const panels = [
 {id:"a", name:"ph", left:139, top:ROW1, x:lin(7.5,8.5,172.6,376), ticks:phTicks, labels:phTickLabels, pts:phPoints, title:"pH", lab:"(a)", labx:100, omega:false},
 {id:"b", name:"omega", left:595, top:ROW1, x:omegaScale, ticks:omTicks, labels:omTickLabels, pts:omegaPoints, title:"OMEGA", lab:"(b)", labx:560, omega:true},
 {id:"c", name:"oxygen", left:1054, top:ROW1, x:lin(0,200,1067.6,1333), ticks:oxTicks, labels:oxTickLabels, pts:oxygenPoints, title:"Oxygen Saturation %", lab:"(c)", labx:1025, omega:false},
 {id:"d", name:"nitrate", left:139, top:ROW2, x:lin(0,40,152,440), ticks:niTicks, labels:niTickLabels, pts:nitratePoints, title:"Nitrate", lab:"(d)", labx:100, omega:false},
 {id:"e", name:"phosphate", left:597, top:ROW2, x:lin(0,4,610,896), ticks:poTicks, labels:poTickLabels, pts:phosphatePoints, title:"Phosphate", lab:"(e)", labx:560, omega:false},
 {id:"f", name:"silicic", left:1055, top:ROW2, x:lin(0,80,1069,1351), ticks:siTicks, labels:siTickLabels, pts:silicaPoints, title:"Silicic Acid", lab:"(f)", labx:1025, omega:false}
];

panels.forEach(p => {
  const g = mk("g", {});
  
  
  const y = lin(0, -20, p.top, p.top + PH);
  yTicks.forEach((t,i) => {
    const ln = mk("line", {x1:p.left, x2:p.left+W, y1:y(t), y2:y(t), stroke:"#cccccc", "stroke-width":1.3}, g);
    
    
    const tx = mk("text", {x:p.left-9, y:y(t)+7.5, "text-anchor":"end", "font-size":21.5}, g);
    
    
    tx.textContent = yTickLabels[i];
  });
  p.ticks.forEach((t,i) => {
    const xx = p.x(t);
    if (!(p.omega && t === 1)) {
      const ln = mk("line", {x1:xx, x2:xx, y1:p.top, y2:p.top+PH, stroke:"#cccccc", "stroke-width":1.3}, g);
      
      
    }
    const tx = mk("text", {x:xx, y:p.top+PH+38, "text-anchor":"middle", "font-size":21.5}, g);
    
    
    tx.textContent = p.labels[i];
  });
  if (p.omega) {
    const ln = mk("line", {x1:p.x(1), x2:p.x(1), y1:p.top, y2:p.top+PH, stroke:"#000", "stroke-width":1.6}, g);
    
    
  }
  const cp = mk("clipPath", {id:"clip"+p.id}, g);
  mk("rect", {x:p.left, y:p.top-7, width:W, height:PH+14}, cp);
  const mg = mk("g", {"clip-path":"url(#clip"+p.id+")"}, g);
  
  
  ["w","s"].forEach(season => {
    siteCodes.forEach((sc, si) => {
      p.pts.forEach(pt => {
        if (pt[0] !== sc || pt[1] !== season) return;
        const cx = p.x(pt[2]), cy = y(pt[3]);
        const col = siteColors[si];
        if (season === "w") {
          const c = mk("circle", {cx:cx, cy:cy, r:6.8, fill:col, stroke:"#fff", "stroke-width":0.9}, mg);
          
          
        } else {
          const a = 4.8;
          const d = "M"+(cx-a)+","+(cy-a)+"L"+(cx+a)+","+(cy+a)+"M"+(cx-a)+","+(cy+a)+"L"+(cx+a)+","+(cy-a);
          const xm = mk("path", {d:d, stroke:col, "stroke-width":3.4, fill:"none"}, mg);
          
          
        }
      });
    });
  });
  const fr = mk("rect", {x:p.left, y:p.top, width:W, height:PH, fill:"none", stroke:"#cccccc", "stroke-width":1.8}, g);
  
  
  const pl = mk("text", {x:p.labx, y:p.top-25, "text-anchor":"middle", "font-size":18}, g);
  
  
  pl.textContent = p.lab;
  const tt = mk("text", {x:p.left+W/2, y:p.top+PH+74, "text-anchor":"middle", "font-size":27}, g);
  
  
  if (p.title === "OMEGA") {
    tt.textContent = "\u03A9";
    const sub = mk("tspan", {"font-size":19, "font-style":"italic", dy:7}, tt);
    sub.textContent = "a";
  } else if (["Nitrate","Phosphate","Silicic Acid"].includes(p.title)) {
    tt.textContent = p.title + " (";
    const mu = mk("tspan", {"font-style":"italic"}, tt); mu.textContent = "\u03BC";
    const t2 = mk("tspan", {}, tt); t2.textContent = "mol kg";
    const t3 = mk("tspan", {"font-size":18, dy:-11}, tt); t3.textContent = "\u22121";
    const t4 = mk("tspan", {dy:11}, tt); t4.textContent = ")";
  } else {
    tt.textContent = p.title;
  }
});

[ROW1, ROW2].forEach(top => {
  const cy = top + PH/2;
  const t = mk("text", {x:0, y:0, transform:"translate(32,"+cy+") rotate(-90)", "text-anchor":"middle", "font-size":27});
  
  
  t.textContent = "Depth (m)";
});

const leg = mk("g", {});


const lb = mk("rect", {x:47, y:1470, width:1318, height:86, fill:"#fff", stroke:"#000", "stroke-width":1.8}, leg);


const lt = mk("text", {x:80, y:1503, "font-size":25, "font-weight":"bold"}, leg);


lt.textContent = "Legend";
const legNames = ["Okeover Inlet","Baynes Sound","Okeover Beach","Strait of Georgia","Evening Cove Beach","Sansum Narrows"];
const legSwatch = ["#2222dd","#e08a22","#22aadd","#d4d4d4","#92bb45","#0f5a10"];
const legCols = [203, 467, 754];
legNames.forEach((n, i) => {
  const col = Math.floor(i/2), row = i%2;
  const sx = legCols[col], sy = 1483 + row*38;
  const r = mk("rect", {x:sx, y:sy, width:57, height:22, fill:legSwatch[i], stroke:"#222", "stroke-width":1.5}, leg);
  
  
  const t = mk("text", {x:sx+77, y:sy+20, "font-size":26}, leg);
  
  
  t.textContent = n;
});
const wc = mk("circle", {cx:1121, cy:1496, r:9, fill:"#333"}, leg);


const wt = mk("text", {x:1173, y:1504, "font-size":26}, leg);


wt.textContent = "Winter";
const sm = mk("path", {d:"M1113,1526L1129,1542M1113,1542L1129,1526", stroke:"#333", "stroke-width":5, fill:"none"}, leg);


const st = mk("text", {x:1173, y:1543, "font-size":26}, leg);


st.textContent = "Summer";
</script>
</body></html>
